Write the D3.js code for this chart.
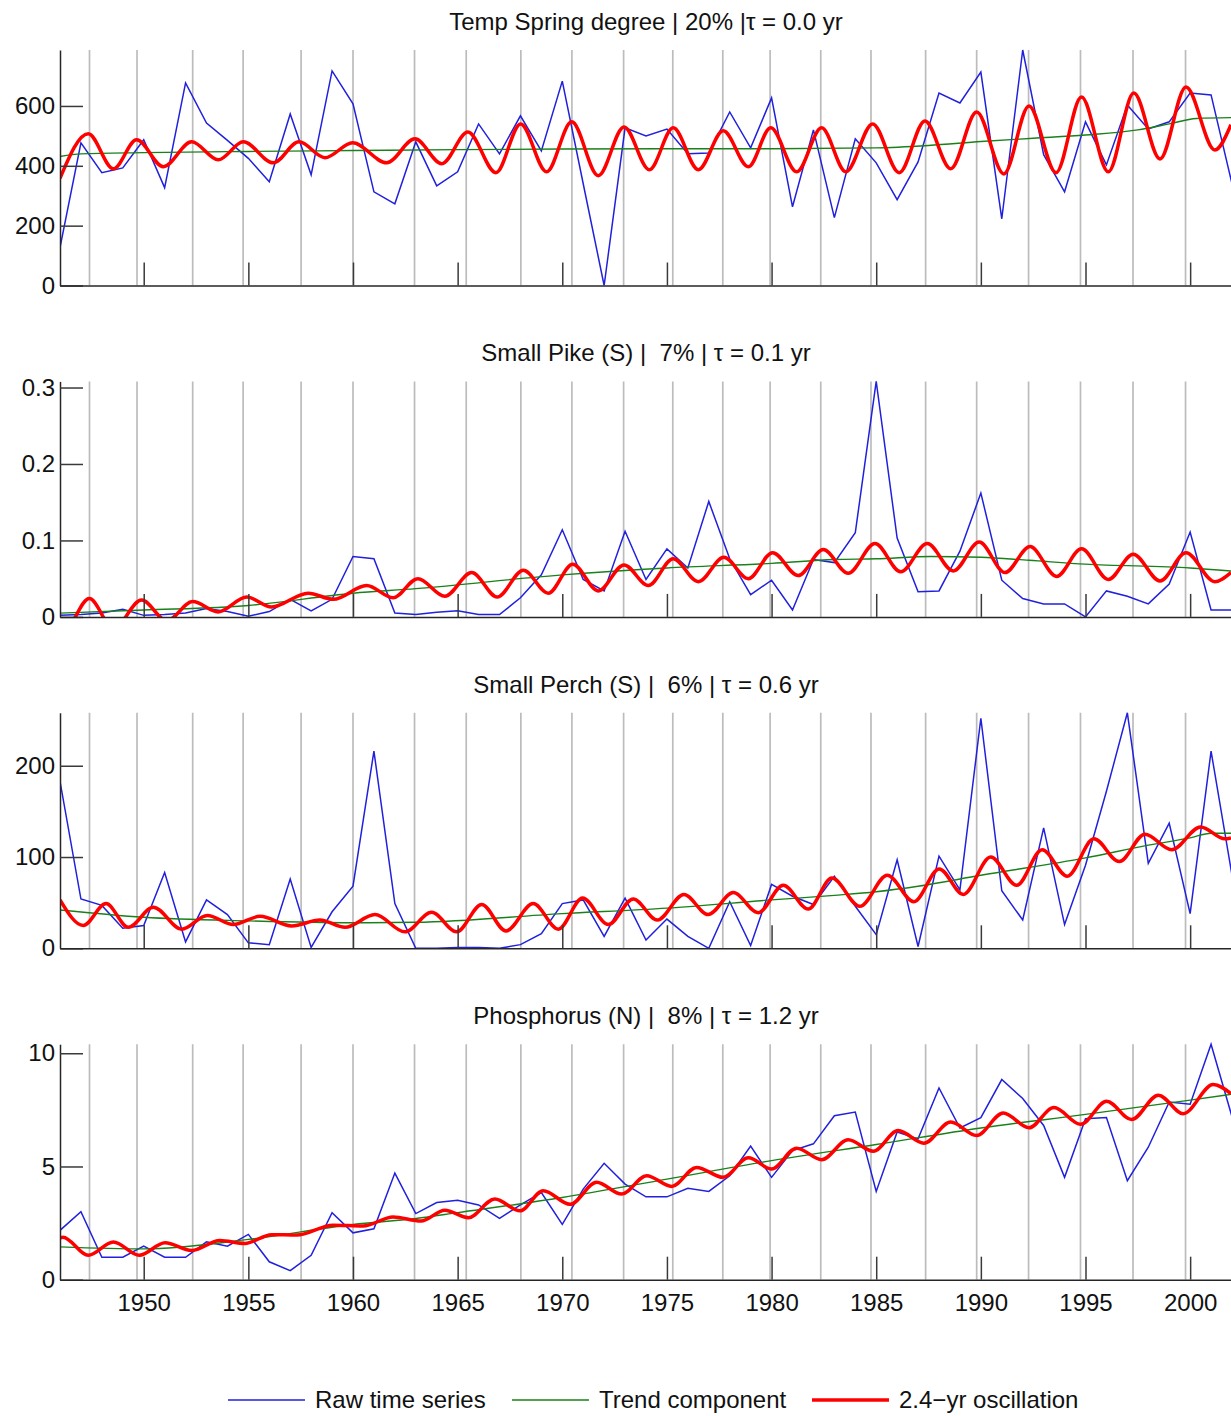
<html>
<head>
<script src="https://d3js.org/d3.v7.min.js"></script>
<style>
    body { margin: 0; background: #fff; }
    text { font-family: "Liberation Sans", Arial, sans-serif; }
</style>
</head>
<body>
<svg id="chart" width="1231" height="1416"></svg>

<script>
    //years of the raw (annual) series
    const years = d3.range(1946, 2003);

    //panel titles
    const titles = [
        "Temp Spring degree | 20% |\u03c4 = 0.0 yr",
        "Small Pike (S) |  7% | \u03c4 = 0.1 yr",
        "Small Perch (S) |  6% | \u03c4 = 0.6 yr",
        "Phosphorus (N) |  8% | \u03c4 = 1.2 yr"
    ];

    //raw time series, one value per year 1946-2002
    const tempRaw = [127,477,377,393,487,327,677,543,485,425,347,573,370,717,607,313,273,480,333,380,
        540,440,567,450,683,340,0,527,500,523,440,443,580,460,627,263,520,227,490,410,
        287,413,643,610,713,223,787,437,313,547,403,603,523,547,643,637,340];
    const pikeRaw = [0.002,0.003,0.005,0.010,0.002,0.003,0.005,0.011,0.007,0.001,0.007,0.023,0.008,0.023,0.079,0.076,0.005,0.003,0.006,0.008,
        0.003,0.003,0.025,0.055,0.114,0.049,0.034,0.112,0.049,0.089,0.064,0.151,0.076,0.029,0.048,0.009,0.075,0.071,0.110,0.308,
        0.103,0.033,0.034,0.086,0.162,0.048,0.024,0.017,0.017,0,0.034,0.027,0.017,0.043,0.111,0.009,0.009];
    const perchRaw = [183,54,47,22,25,83,7,53,37,6,4,76,1,40,68,216,49,0,0,1,
        1,0,4,16,49,53,13,55,9,32,13,0,51,3,70,57,48,79,46,15,
        97,2,101,64,252,63,31,132,26,91,172,258,93,137,38,216,80];
    const phosRaw = [2.18,3.00,0.99,0.99,1.48,0.99,0.99,1.67,1.48,2.00,0.79,0.40,1.08,2.96,2.07,2.25,4.71,2.92,3.41,3.51,
        3.30,2.71,3.30,3.85,2.44,4.00,5.14,4.22,3.66,3.66,4.04,3.90,4.59,5.90,4.52,5.70,6.00,7.24,7.40,3.90,
        6.52,6.22,8.47,6.70,7.16,8.84,8.00,6.81,4.52,7.11,7.16,4.37,5.85,7.85,7.75,10.40,7.20];

    //trend component
    const tempTrendYears = [1946,1947,1950,1955,1960,1965,1970,1975,1980,1985,1987.5,1990,1992.5,1995,1997.5,1999,2000.3,2002];
    const tempTrend = [431,440,444,448,451,454,456,457,457,460,468,481,492,503,520,540,558,561];
    const pikeTrendYears = [1946,1950,1955,1960,1963,1970,1975,1980,1983,1985,1987.6,1990,1992.3,1995,2000,2002];
    const pikeTrend = [0.005,0.009,0.015,0.031,0.037,0.055,0.064,0.070,0.075,0.076,0.079,0.078,0.074,0.069,0.064,0.060];
    const perchTrendYears = [1946,1950,1955,1960,1963,1970,1975,1980,1983,1985,1987,1990,1995,1998,2000,2001,2002];
    const perchTrend = [42,34,30,28,28.5,38,44,53,58,62,68,80,99,113,121,126,126];
    const phosTrendYears = [1946,1950,1955,1960,1963,1965,1970,1975,1980,1985,1990,1995,2000,2002];
    const phosTrend = [1.45,1.36,1.78,2.44,2.70,2.96,3.63,4.44,5.26,5.97,6.70,7.30,7.93,8.19];

    //2.4-yr oscillation: turning points
    const tempOscYears = [1946.00,1947.35,1948.55,1949.66,1950.94,1952.29,1953.56,1954.76,1956.19,1957.42,1958.66,1959.98,1961.61,1962.96,1964.24,1965.49,
        1966.83,1968.01,1969.25,1970.45,1971.72,1972.95,1974.16,1975.30,1976.50,1977.69,1978.89,1979.96,1981.20,1982.39,1983.55,1984.83,
        1986.10,1987.33,1988.56,1989.80,1991.10,1992.30,1993.59,1994.81,1996.09,1997.31,1998.56,1999.80,2001.18,2001.95];
    const tempOsc = [358,507,390,487,397,480,420,480,410,480,427,477,410,490,407,513,
        377,540,380,547,367,530,387,527,387,517,397,527,380,527,380,540,
        377,550,390,580,373,600,377,630,380,643,423,663,453,537];
    const pikeOscYears = [1946.00,1946.19,1947.40,1948.55,1949.90,1951.10,1952.34,1953.56,1954.92,1956.11,1957.86,1959.06,1960.65,1961.92,1963.10,1964.39,
        1965.67,1966.89,1968.14,1969.33,1970.50,1971.72,1972.95,1974.11,1975.30,1976.50,1977.72,1978.89,1980.05,1981.27,1982.47,1983.66,
        1984.94,1986.17,1987.44,1988.68,1989.92,1991.15,1992.35,1993.62,1994.81,1996.09,1997.28,1998.56,1999.80,2001.18,2001.95];
    const pikeOsc = [-0.012,-0.018,0.024,-0.015,0.022,-0.005,0.020,0.0065,0.026,0.013,0.031,0.023,0.041,0.025,0.050,0.027,
        0.058,0.026,0.061,0.031,0.069,0.034,0.068,0.041,0.076,0.046,0.078,0.050,0.084,0.054,0.088,0.057,
        0.096,0.059,0.096,0.060,0.098,0.058,0.092,0.053,0.089,0.049,0.082,0.047,0.084,0.046,0.058];
    const perchOscYears = [1946.00,1947.11,1948.20,1949.26,1950.46,1951.81,1953.04,1954.28,1955.56,1957.07,1958.42,1959.62,1961.05,1962.48,1963.76,1964.95,
        1966.15,1967.31,1968.61,1969.81,1970.97,1972.20,1973.39,1974.54,1975.81,1976.97,1978.17,1979.36,1980.56,1981.75,1982.88,1984.22,
        1985.53,1986.80,1988.01,1989.16,1990.47,1991.71,1992.93,1994.13,1995.40,1996.61,1997.84,1999.12,2000.50,2001.66,2001.95];
    const perchOsc = [53,25,49,23,45,21,36,26,35,24.5,31,23,37,18,39.5,18,
        48,19,49,21,55,26,54,31,59,37,61,39,69,43,77,46,
        80,51,87,59,100,69,108,79,120,95,125,108,133,120,121];
    const phosOscYears = [1946.00,1946.14,1947.35,1948.55,1949.79,1951.02,1952.29,1953.64,1954.84,1956.11,1957.31,1959.04,1960.48,1961.92,1963.25,1964.39,
        1965.51,1966.78,1967.98,1969.09,1970.37,1971.64,1972.84,1974.03,1975.23,1976.42,1977.69,1978.89,1980.00,1981.20,1982.39,1983.66,
        1984.86,1986.05,1987.28,1988.56,1989.80,1991.07,1992.30,1993.49,1994.77,1996.01,1997.20,1998.48,1999.67,2001.10,2001.95];
    const phosOsc = [1.85,1.88,1.08,1.67,1.08,1.63,1.29,1.73,1.60,1.99,1.97,2.41,2.37,2.77,2.59,3.07,
        2.74,3.56,3.04,3.93,3.33,4.30,3.78,4.59,4.12,4.96,4.52,5.38,4.89,5.81,5.30,6.18,
        5.67,6.59,6.03,6.96,6.37,7.36,6.71,7.60,6.86,7.88,7.07,8.15,7.33,8.62,8.22];

    //grey lines: peaks of the oscillation
    const peakYears = [1947.41,1949.68,1952.34,1954.75,1957.52,1960.00,1962.94,1965.41,1968.02,1970.46,1972.93,
        1975.28,1977.67,1979.93,1982.35,1984.75,1987.36,1989.80,1992.28,1994.76,1997.27,1999.78];

    //tick values
    const xTickYears = [1950,1955,1960,1965,1970,1975,1980,1985,1990,1995,2000];
    const tempTicks = [0,200,400,600];
    const pikeTicks = [0,0.1,0.2,0.3];
    const perchTicks = [0,100,200];
    const phosTicks = [0,5,10];

    //legend
    const legendLabels = ["Raw time series", "Trend component", "2.4\u2212yr oscillation"];
    const legendColors = ["#2020dd", "#1a801a", "#ff0000"];

    const panels = [
        {raw: tempRaw, trendYears: tempTrendYears, trend: tempTrend, oscYears: tempOscYears, osc: tempOsc, ticks: tempTicks},
        {raw: pikeRaw, trendYears: pikeTrendYears, trend: pikeTrend, oscYears: pikeOscYears, osc: pikeOsc, ticks: pikeTicks},
        {raw: perchRaw, trendYears: perchTrendYears, trend: perchTrend, oscYears: perchOscYears, osc: perchOsc, ticks: perchTicks},
        {raw: phosRaw, trendYears: phosTrendYears, trend: phosTrend, oscYears: phosOscYears, osc: phosOsc, ticks: phosTicks}
    ];

    let svg = d3.select("svg#chart");
    let margin = {"left": 60, "right": 1232};
    let panelStep = 331.4, panelHeight = 235.5, firstTop = 50;
    let fontSize = 24;

    let xScale = d3.scaleLinear().domain([1946, 2002]).range([margin.left, margin.right]);
    let defs = svg.append("defs");

    panels.forEach(function(p, i) {
        let top = firstTop + i * panelStep;
        let bottom = top + panelHeight;
        let yScale = d3.scaleLinear().domain([0, d3.max(p.raw)]).range([bottom, top]);

        //clip region of the plot
        defs.append("clipPath").attr("id", "clip" + i)
            .append("rect")
            .attr("x", margin.left)
            .attr("y", top - 3)
            .attr("width", margin.right - margin.left)
            .attr("height", bottom - top + 3);

        let plot = svg.append("g").attr("clip-path", "url(#clip" + i + ")");

        //grey vertical lines
        peakYears.forEach(function(yr) {
            plot.append("line")
                .attr("x1", xScale(yr))
                .attr("x2", xScale(yr))
                .attr("y1", top)
                .attr("y2", bottom)
                .style("stroke", "#bcbcbc")
                .style("stroke-width", 1.7);
        });

        //raw series
        let rawLine = d3.line()
            .x((d, k) => xScale(years[k]))
            .y(d => yScale(d));
        plot.append("path")
            .attr("d", rawLine(p.raw))
            .style("fill", "none")
            .style("stroke", legendColors[0])
            .style("stroke-width", 1.5);

        //trend
        let trendLine = d3.line()
            .x((d, k) => xScale(p.trendYears[k]))
            .y(d => yScale(d))
            .curve(d3.curveMonotoneX);
        plot.append("path")
            .attr("d", trendLine(p.trend))
            .style("fill", "none")
            .style("stroke", legendColors[1])
            .style("stroke-width", 1.4);

        //oscillation
        let oscLine = d3.line()
            .x((d, k) => xScale(p.oscYears[k]))
            .y(d => yScale(d))
            .curve(d3.curveMonotoneX);
        plot.append("path")
            .attr("d", oscLine(p.osc))
            .style("fill", "none")
            .style("stroke", legendColors[2])
            .style("stroke-width", 3.5);

        //y axis
        let yAxis = d3.axisLeft(yScale)
            .tickValues(p.ticks)
            .tickFormat(d => String(d))
            .tickSize(-23)
            .tickSizeOuter(0)
            .tickPadding(5);
        let yg = svg.append("g")
            .attr("transform", "translate(" + margin.left + ",0)")
            .call(yAxis);

        //x axis, labels only on the last panel
        let xAxis = d3.axisBottom(xScale)
            .tickValues(xTickYears)
            .tickSize(-23)
            .tickSizeOuter(0)
            .tickPadding(14);
        if (i < panels.length - 1) xAxis.tickFormat("");
        else xAxis.tickFormat(d => String(d));
        let xg = svg.append("g")
            .attr("transform", "translate(0," + bottom + ")")
            .call(xAxis);

        [yg, xg].forEach(function(ax) {
            ax.attr("font-size", fontSize).attr("font-family", "Liberation Sans, Arial, sans-serif");
            ax.select(".domain").style("stroke", "#262626").style("stroke-width", 1.5);
            ax.selectAll(".tick line").style("stroke", "#3a3a3a").style("stroke-width", 1.5);
            ax.selectAll(".tick text").style("fill", "#111");
        });

        //title
        svg.append("text")
            .attr("x", (margin.left + margin.right) / 2)
            .attr("y", top - 20)
            .attr("text-anchor", "middle")
            .style("white-space", "pre")
            .style("font-size", fontSize + "px")
            .style("fill", "#111")
            .text(titles[i]);
    });

    //legend
    let legendX = [228, 512, 812];
    let legendY = 1400;
    legendLabels.forEach(function(label, k) {
        svg.append("line")
            .attr("x1", legendX[k])
            .attr("x2", legendX[k] + 77)
            .attr("y1", legendY)
            .attr("y2", legendY)
            .style("stroke", legendColors[k])
            .style("stroke-width", k == 2 ? 3.5 : (k == 1 ? 1.4 : 1.5));
        svg.append("text")
            .attr("x", legendX[k] + 87)
            .attr("y", legendY + 8)
            .style("font-size", fontSize + "px")
            .style("fill", "#111")
            .text(label);
    });
</script>
</body>
</html>
